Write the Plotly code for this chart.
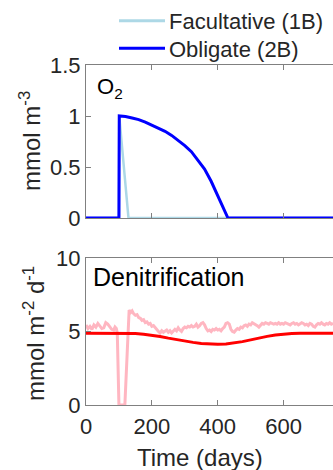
import plotly.graph_objects as go

# ---- data ----
fac_days = [0, 100, 101, 129, 750]
fac_o2 = [0, 0, 1.0, 0, 0]

obl_days = [0, 100, 101, 120, 140, 160, 180, 200, 220, 240, 260, 280, 300, 320,
            340, 360, 380, 400, 420, 431, 750]
obl_o2 = [0, 0, 1.0, 0.995, 0.98, 0.965, 0.94, 0.91, 0.88, 0.85, 0.81, 0.76, 0.71,
          0.65, 0.57, 0.48, 0.36, 0.22, 0.08, 0, 0]

pink_days = [0, 6, 12, 18, 24, 30, 36, 42, 48, 54, 60, 66, 72, 78, 84, 88, 92, 95,
             100, 118, 125, 131, 136, 140, 145, 150, 155, 160, 165, 170, 175, 180,
             185, 190, 195, 200, 205, 210, 215, 220, 225, 230, 235, 240, 245, 250,
             255, 260, 265, 270, 275, 280, 285, 290, 295, 300, 305, 310, 315, 320,
             325, 330, 335, 340, 345, 350, 355, 360, 365, 370, 375, 380, 385, 390,
             395, 400, 405, 410, 415, 420, 425, 430, 435, 440, 445, 450, 455, 460,
             465, 470, 475, 480, 485, 490, 495, 500, 505, 510, 515, 520, 525, 530,
             535, 540, 545, 550, 555, 560, 565, 570, 575, 580, 585, 590, 595, 600,
             605, 610, 615, 620, 625, 630, 635, 640, 645, 650, 655, 660, 665, 670,
             675, 680, 685, 690, 695, 700, 705, 710, 715, 720, 725, 730, 735, 740,
             745, 750]
pink_denit = [5.45, 5.2, 5.35, 5.15, 5.45, 5.3, 5.55, 5.4, 5.2, 5.25, 5.6, 5.5, 5.3,
              5.15, 5.1, 5.3, 5.2, 4.9,
              0, 0, 3.5, 6.45, 6.3, 6.4, 6.2, 6.1, 6.15, 5.95, 5.9, 5.75, 5.8, 5.6,
              5.65, 5.5, 5.55, 5.35, 5.4, 5.25, 5.15, 5.0, 4.9, 5.05, 4.95, 5.0, 5.1,
              4.95, 5.05, 4.9, 5.0, 5.15, 5.05, 5.25, 5.1, 5.0, 5.2, 5.3, 5.25, 5.35,
              5.3, 5.4, 5.3, 5.35, 5.5, 5.3, 5.4, 5.55, 5.6, 5.45, 5.2, 5.05, 5.1, 5.0,
              5.15, 5.1, 5.2, 5.1, 5.15, 5.05, 5.2, 5.3, 5.55, 5.6, 5.5, 5.15, 5.0,
              4.95, 5.1, 5.2, 5.15, 5.3, 5.25, 5.4, 5.45, 5.35, 5.5, 5.45, 5.6, 5.55,
              5.5, 5.4, 5.3, 5.45, 5.55, 5.5, 5.6, 5.55, 5.5, 5.6, 5.55, 5.5, 5.55,
              5.5, 5.6, 5.5, 5.55, 5.5, 5.6, 5.55, 5.5, 5.45, 5.55, 5.6, 5.5, 5.55,
              5.45, 5.5, 5.6, 5.55, 5.45, 5.5, 5.4, 5.55, 5.5, 5.35, 5.3, 5.45, 5.55,
              5.5, 5.6, 5.5, 5.45, 5.55, 5.5, 5.6, 5.5, 5.55]

red_days = [0, 50, 100, 150, 175, 200, 225, 250, 275, 300, 325, 350, 375, 400, 425,
            450, 475, 500, 525, 550, 575, 600, 625, 650, 700, 750]
red_denit = [4.88, 4.88, 4.88, 4.86, 4.82, 4.75, 4.66, 4.55, 4.44, 4.34, 4.26, 4.19,
             4.15, 4.13, 4.15, 4.21, 4.31, 4.43, 4.56, 4.67, 4.76, 4.83, 4.86, 4.88,
             4.88, 4.88]

x_ticks = [0, 200, 400, 600]
o2_ticks = [0, 0.5, 1, 1.5]
o2_tick_labels = ["0", "0.5", "1", "1.5"]
den_ticks = [0, 5, 10]
legend_names = ["Facultative (1B)", "Obligate (2B)"]

FONT = "Liberation Sans"
FS = 22      # tick labels, legend, O2
FT = 24      # axis titles
FD = 25      # panel title "Denitrification"
AX = "#808080"
TXT = "#262626"
FAC_C = "#ADD8E6"
OBL_C = "#0000FF"

# pixel -> paper helpers (plot area: x 86..333, y 65..405)
def px(x):
    return (x - 86) / 247


def py(y):
    return 1 + (65 - y) / 340


fig = go.Figure()
fig.add_trace(go.Scatter(x=fac_days, y=fac_o2, mode="lines", name=legend_names[0],
                         line=dict(color=FAC_C, width=2.5), xaxis="x", yaxis="y",
                         showlegend=False))
fig.add_trace(go.Scatter(x=obl_days, y=obl_o2, mode="lines", name=legend_names[1],
                         line=dict(color=OBL_C, width=3), xaxis="x", yaxis="y",
                         showlegend=False))
fig.add_trace(go.Scatter(x=pink_days, y=pink_denit, mode="lines", showlegend=False,
                         line=dict(color="#FFB6C1", width=3), xaxis="x2", yaxis="y2"))
fig.add_trace(go.Scatter(x=red_days, y=red_denit, mode="lines", showlegend=False,
                         line=dict(color="#FF0000", width=3), xaxis="x2", yaxis="y2"))

common_x = dict(range=[0, 750], tickvals=x_ticks, ticks="inside", ticklen=5,
                tickcolor=AX, showline=True, linecolor=AX, linewidth=1,
                mirror="ticks", showgrid=False, zeroline=False, automargin=False,
                tickfont=dict(family=FONT, size=FS, color=TXT))
common_y = dict(ticks="inside", ticklen=5, tickcolor=AX, showline=True,
                linecolor=AX, linewidth=1, showgrid=False, zeroline=False,
                automargin=False, tickfont=dict(family=FONT, size=FS, color=TXT))

legend_shapes = [
    dict(type="line", xref="paper", yref="paper", x0=px(119), x1=px(165),
         y0=py(20.7), y1=py(20.7), line=dict(color=FAC_C, width=3)),
    dict(type="line", xref="paper", yref="paper", x0=px(119), x1=px(165),
         y0=py(48.3), y1=py(48.3), line=dict(color=OBL_C, width=3)),
]

legend_texts = [
    dict(text=legend_names[0], xref="paper", yref="paper", x=px(167), y=py(21),
         xanchor="left", yanchor="middle", showarrow=False,
         font=dict(family=FONT, size=FS, color=TXT)),
    dict(text=legend_names[1], xref="paper", yref="paper", x=px(167), y=py(49.5),
         xanchor="left", yanchor="middle", showarrow=False,
         font=dict(family=FONT, size=FS, color=TXT)),
]

fig.update_layout(
    width=333, height=470,
    margin=dict(l=86, r=0, t=65, b=65, autoexpand=False),
    paper_bgcolor="white", plot_bgcolor="white",
    font=dict(family=FONT, size=FS, color=TXT),
    xaxis=dict(domain=[0, 1], anchor="y", showticklabels=False, **common_x),
    yaxis=dict(domain=[py(218), 1], anchor="x", range=[0, 1.5], tickvals=o2_ticks,
               ticktext=o2_tick_labels, **common_y),
    xaxis2=dict(domain=[0, 1], anchor="y2", showticklabels=True,
                ticklabelstandoff=2, **common_x),
    yaxis2=dict(domain=[0, py(258)], anchor="x2", range=[0, 10], tickvals=den_ticks,
                **common_y),
    showlegend=False,
    shapes=legend_shapes,
    annotations=legend_texts + [
        dict(text="O<sub>2</sub>", xref="paper", yref="paper", x=px(95),
             y=py(72), xanchor="left", yanchor="top", showarrow=False,
             font=dict(family=FONT, size=FS, color="black")),
        dict(text="Denitrification", xref="paper", yref="paper", x=px(91),
             y=py(261), xanchor="left", yanchor="top", showarrow=False,
             font=dict(family=FONT, size=FD, color="black")),
        dict(text="mmol m<sup>-3</sup>", xref="paper", yref="paper",
             x=px(30), y=py(141), xanchor="center",
             yanchor="middle", textangle=-90, showarrow=False,
             font=dict(family=FONT, size=FT, color=TXT)),
        dict(text="mmol m<sup>-2</sup> d<sup>-1</sup>", xref="paper", yref="paper",
             x=px(34), y=py(334), xanchor="center",
             yanchor="middle", textangle=-90, showarrow=False,
             font=dict(family=FONT, size=FT, color=TXT)),
        dict(text="Time (days)", xref="paper", yref="paper",
             x=px(200), y=py(458), xanchor="center",
             yanchor="middle", showarrow=False,
             font=dict(family=FONT, size=FT, color=TXT)),
    ],
)

fig.write_html(
    "out.html",
    config={"displayModeBar": False},
    post_script="document.body.style.margin='0';document.body.style.padding='0';"
                "document.body.style.overflow='hidden';",
)
